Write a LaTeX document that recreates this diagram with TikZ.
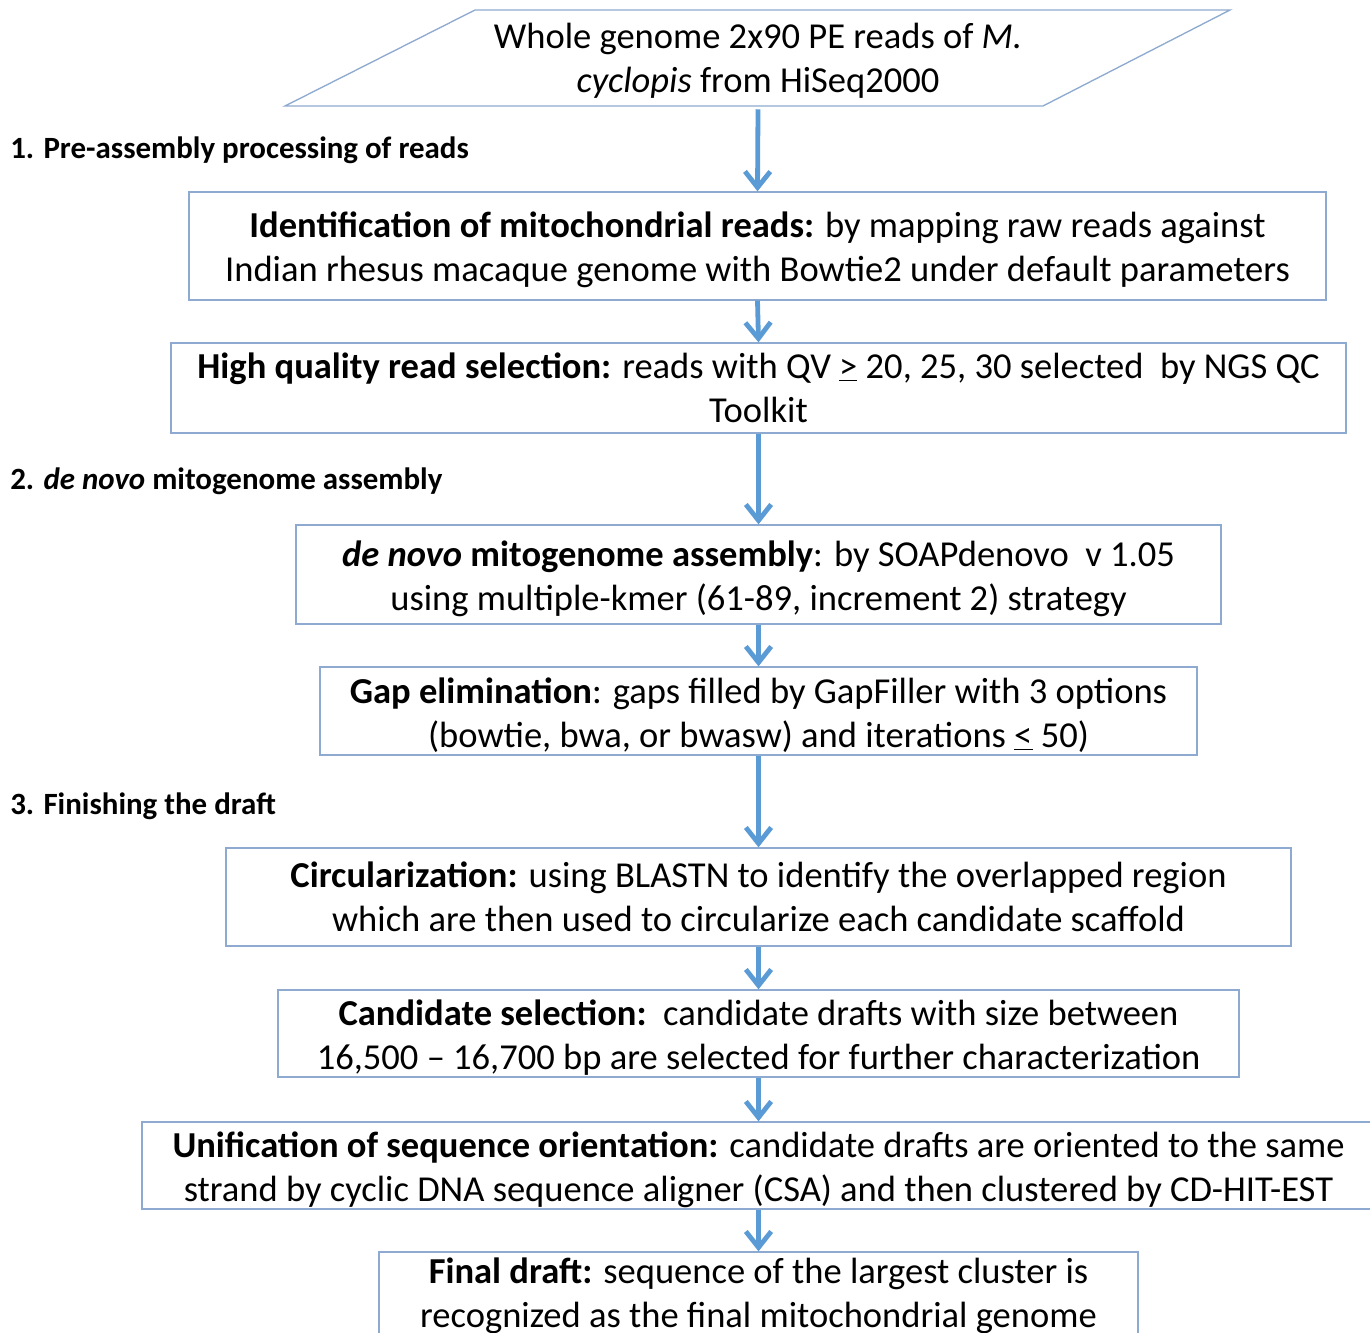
\documentclass[tikz,border=0pt]{standalone}
\usepackage{fontspec}
\setmainfont{Carlito}
\usetikzlibrary{arrows.meta}
\definecolor{boxline}{HTML}{8FAAD0}
\definecolor{arrowblue}{HTML}{5B9BD5}
\newcommand\mytopstrut{\rule{0pt}{25pt}}
\tikzset{
  boxfont/.style={font=\fontsize{27.4pt}{33pt}\selectfont},
  stepbox/.style={draw=boxline, line width=1pt, rectangle, align=center, inner sep=0pt, boxfont},
  sectlabel/.style={anchor=west, inner sep=0pt, font=\fontsize{23.2pt}{28pt}\selectfont\bfseries},
  flow/.style={draw=arrowblue, line width=3.6pt, -{Straight Barb[length=12pt, width=19pt]}}
}
\begin{document}
\begin{tikzpicture}[x=0.75pt,y=-0.75pt]
\useasboundingbox (0,0) rectangle (1370,1333);
\clip (0,0) rectangle (1370,1333);
% input parallelogram
\draw[boxline, line width=1pt] (475,10) -- (1230,10) -- (1043,106) -- (285,106) -- cycle;
\node[align=center, inner sep=0pt, minimum height=72pt, boxfont] (src) at (758,61)
  {Whole genome 2x90 PE reads of \textit{M.}\\ \textit{cyclopis} from HiSeq2000};

\node[sectlabel] (lab1) at (10,150) {1. Pre-assembly processing of reads};
\node[sectlabel] (lab2) at (10,481) {2. \textit{de novo} mitogenome assembly};
\node[sectlabel] (lab3) at (10,806) {3. Finishing the draft};

\node[stepbox, minimum width=852.75pt, minimum height=81pt] (b1) at (757.5,246)
  {\mytopstrut\textbf{Identification of mitochondrial reads:} by mapping raw reads against\\
   Indian rhesus macaque genome with Bowtie2 under default parameters};
\node[stepbox, minimum width=881.25pt, minimum height=67.5pt] (b2) at (758.5,388)
  {\textbf{High quality read selection:} reads with QV \underline{>} 20, 25, 30 selected\ \ by NGS QC\\
   Toolkit};
\node[stepbox, minimum width=693.75pt, minimum height=74.25pt] (b3) at (758.5,574.5)
  {\mytopstrut\textbf{\textit{de novo} mitogenome assembly}: by SOAPdenovo\ \ v 1.05\\
   using multiple-kmer (61-89, increment 2) strategy};
\node[stepbox, minimum width=657.75pt, minimum height=66pt] (b4) at (758.5,711)
  {\mytopstrut\textbf{Gap elimination}: gaps filled by GapFiller with 3 options\\
   (bowtie, bwa, or bwasw) and iterations \underline{<} 50)};
\node[stepbox, minimum width=798.75pt, minimum height=73.5pt] (b5) at (758.5,897)
  {\textbf{Circularization:} using BLASTN to identify the overlapped region\\
   which are then used to circularize each candidate scaffold};
\node[stepbox, minimum width=720.75pt, minimum height=65.25pt] (b6) at (758.5,1033.5)
  {\mytopstrut\textbf{Candidate selection:}\ \ candidate drafts with size between\\
   16,500 – 16,700 bp are selected for further characterization};
\node[stepbox, minimum width=924.75pt, minimum height=65.25pt] (b7) at (758.5,1165.5)
  {\mytopstrut\textbf{Unification of sequence orientation:} candidate drafts are oriented to the same\\
   strand by cyclic DNA sequence aligner (CSA) and then clustered by CD-HIT-EST};
\node[stepbox, minimum width=569.25pt, minimum height=66pt] (b8) at (758.5,1296)
  {\textbf{Final draft:} sequence of the largest cluster is\\
   recognized as the final mitochondrial genome};

\draw[flow] (src.south) -- (b1.north);
\draw[flow] (b1.south) -- (b2.north);
\draw[flow] (b2.south) -- (b3.north);
\draw[flow] (b3.south) -- (b4.north);
\draw[flow] (b4.south) -- (b5.north);
\draw[flow] (b5.south) -- (b6.north);
\draw[flow] (b6.south) -- (b7.north);
\draw[flow] (b7.south) -- (b8.north);
\end{tikzpicture}
\end{document}
